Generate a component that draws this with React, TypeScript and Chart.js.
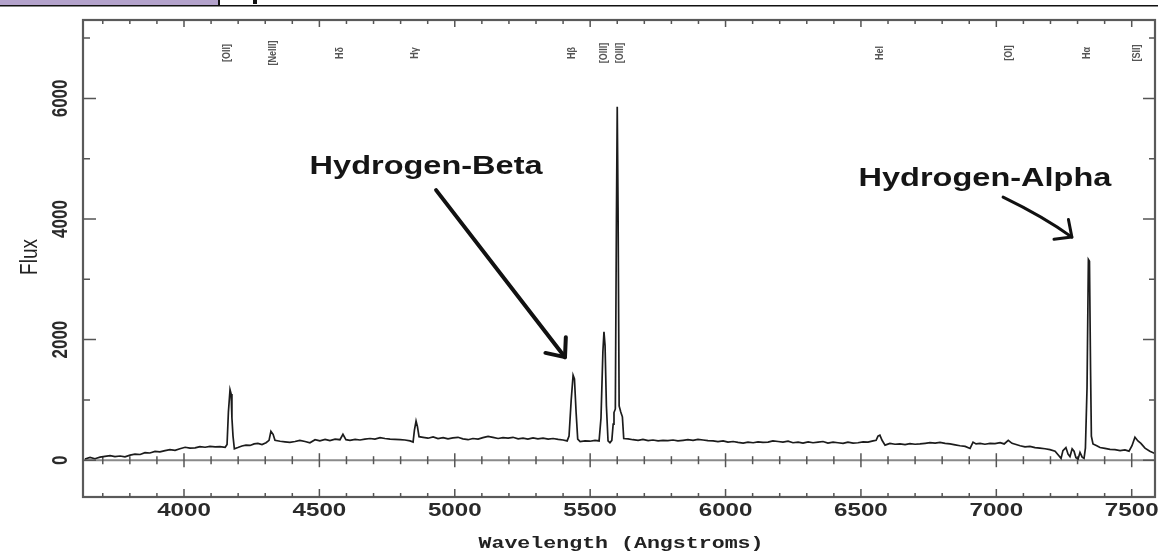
import React, { useEffect, useRef } from "react";
import { Chart, registerables } from "chart.js";

Chart.register(...registerables);

// Observed wavelength (Angstroms)
const wavelength = [
  3634, 3653, 3671, 3690, 3708, 3727, 3745, 3764, 3782, 3801,
  3819, 3838, 3856, 3874, 3893, 3911, 3930, 3948, 3967, 3985,
  4004, 4022, 4041, 4059, 4078, 4096, 4115, 4133, 4152, 4159,
  4164, 4170, 4174, 4177, 4181, 4186, 4199, 4214, 4229, 4244,
  4259, 4273, 4288, 4303, 4314, 4321, 4329, 4336, 4355, 4373,
  4391, 4410, 4428, 4447, 4465, 4484, 4502, 4521, 4539, 4558,
  4576, 4587, 4598, 4613, 4632, 4650, 4668, 4687, 4705, 4724,
  4742, 4761, 4779, 4798, 4816, 4835, 4846, 4851, 4857, 4862,
  4868, 4883, 4901, 4920, 4938, 4957, 4975, 4993, 5012, 5030,
  5049, 5067, 5086, 5104, 5123, 5141, 5160, 5178, 5197, 5215,
  5234, 5252, 5270, 5289, 5307, 5326, 5345, 5363, 5382, 5400,
  5415, 5422, 5430, 5437, 5442, 5448, 5454, 5463, 5481, 5499,
  5518, 5533, 5540, 5547, 5551, 5555, 5560, 5566, 5573, 5580,
  5585, 5588, 5593, 5597, 5600, 5603, 5607, 5613, 5619, 5624,
  5640, 5658, 5677, 5695, 5714, 5732, 5751, 5769, 5787, 5806,
  5824, 5843, 5861, 5880, 5898, 5917, 5935, 5954, 5972, 5991,
  6009, 6028, 6046, 6065, 6083, 6102, 6120, 6138, 6157, 6175,
  6194, 6212, 6231, 6249, 6268, 6286, 6305, 6323, 6342, 6360,
  6378, 6397, 6415, 6434, 6452, 6471, 6489, 6508, 6526, 6545,
  6556, 6563, 6570, 6578, 6589, 6607, 6626, 6644, 6663, 6681,
  6700, 6718, 6737, 6755, 6774, 6792, 6811, 6829, 6848, 6866,
  6885, 6903, 6914, 6925, 6940, 6958, 6977, 6995, 7014, 7029,
  7044, 7058, 7073, 7088, 7106, 7124, 7143, 7161, 7180, 7198,
  7217, 7228, 7239, 7246, 7257, 7265, 7272, 7280, 7287, 7294,
  7302, 7309, 7317, 7324, 7329, 7335, 7340, 7344, 7348, 7351,
  7357, 7371, 7383, 7401, 7420, 7438, 7457, 7475, 7490, 7501,
  7512, 7523, 7534, 7549, 7567, 7586,
];

// Flux
const flux = [
  20, 45, 25, 50, 65, 75, 60, 70, 55, 85,
  100, 95, 125, 120, 145, 140, 160, 175, 165, 190,
  215, 200, 205, 225, 215, 230, 220, 225, 215, 260,
  800, 1170, 1100, 700, 400, 190, 210, 235, 250, 245,
  270, 280, 260, 290, 330, 480, 430, 330, 315, 305,
  295, 310, 330, 310, 290, 340, 320, 345, 325, 350,
  340, 430, 340, 330, 345, 335, 350, 360, 350, 375,
  360, 350, 345, 340, 335, 320, 300, 500, 650, 560,
  390, 380, 365, 385, 360, 375, 355, 370, 380, 355,
  340, 360, 350, 375, 395, 380, 360, 375, 365, 380,
  355, 365, 350, 370, 355, 365, 350, 360, 345, 335,
  320, 400, 1000, 1410, 1350, 800, 350, 310, 320, 315,
  330, 320, 700, 1800, 2130, 1900, 900, 320, 290, 330,
  600, 790, 850, 4000, 5860, 4200, 900, 800, 720, 360,
  355, 340, 330, 345, 325, 335, 320, 330, 325, 335,
  320, 330, 340, 330, 345, 335, 325, 320, 310, 320,
  300, 310, 295, 285, 300, 290, 305, 295, 300, 320,
  310, 300, 315, 290, 300, 285, 305, 290, 300, 310,
  285, 300, 290, 280, 300, 285, 290, 305, 300, 320,
  330, 400, 415, 330, 250, 280, 265, 270, 260, 275,
  265, 270, 280, 290, 285, 295, 280, 270, 255, 240,
  230, 195, 300, 270, 280, 265, 280, 275, 290, 270,
  330, 280, 260, 240, 220, 230, 210, 200, 190, 175,
  150, 90, 30, 160, 210, 100, 60, 190, 150, 40,
  20, 130, 50, 30, 200, 1200, 3330, 3300, 1500, 400,
  270, 240, 210, 195, 180, 175, 160, 170, 150, 240,
  380, 320, 280, 200, 150, 110,
];

const xMin = 3627;
const xMax = 7586;
const yMin = -610;
const yMax = 7300;
const xTickStep = 100;
const xLabelStep = 500;
const yTickValues = [0, 1000, 2000, 3000, 4000, 5000, 6000, 7000];
const yLabelStep = 2000;

const lineLabels = ["[OII]", "[NeIII]", "Hδ", "Hγ", "Hβ", "[OIII]", "[OIII]", "HeI", "[OI]", "Hα", "[SII]"];
const lineLabelWavelengths = [4159, 4329, 4576, 4853, 5432, 5551, 5610, 6569, 7047, 7335, 7520];

const xTitle = "Wavelength (Angstroms)";
const yTitle = "Flux";
const annotationTexts = ["Hydrogen-Beta", "Hydrogen-Alpha"];
// [text centre λ, text baseline flux, arrow start λ, flux, arrow tip λ, flux]
const betaAnnotation = [4894, 4750, 4931, 4479, 5407, 1709];
const alphaAnnotation = [6958, 4550, 7025, 4363, 7279, 3700];

const SX = 1.27;

function stretchedText(
  ctx: CanvasRenderingContext2D,
  text: string,
  x: number,
  y: number,
  font: string,
  align: CanvasTextAlign,
  baseline: CanvasTextBaseline,
  sx: number,
  rot = 0,
  color = "#222"
) {
  ctx.save();
  ctx.translate(x, y);
  ctx.scale(sx, 1);
  if (rot) ctx.rotate(rot);
  ctx.font = font;
  ctx.textAlign = align;
  ctx.textBaseline = baseline;
  ctx.fillStyle = color;
  ctx.fillText(text, 0, 0);
  ctx.restore();
}

function drawArrow(
  ctx: CanvasRenderingContext2D,
  x0: number, y0: number, cx: number, cy: number, x1: number, y1: number,
  width: number, head: number, spread: number
) {
  ctx.save();
  ctx.strokeStyle = "#111";
  ctx.lineWidth = width;
  ctx.lineCap = "round";
  ctx.lineJoin = "round";
  ctx.beginPath();
  ctx.moveTo(x0, y0);
  ctx.quadraticCurveTo(cx, cy, x1, y1);
  ctx.stroke();
  const ang = Math.atan2(y1 - cy, x1 - cx) + Math.PI;
  ctx.beginPath();
  ctx.moveTo(x1 + head * Math.cos(ang - spread), y1 + head * Math.sin(ang - spread));
  ctx.lineTo(x1, y1);
  ctx.lineTo(x1 + head * Math.cos(ang + spread), y1 + head * Math.sin(ang + spread));
  ctx.stroke();
  ctx.restore();
}

const decorPlugin = {
  id: "spectrumDecor",
  beforeDatasetsDraw(chart: any) {
    const ctx = chart.ctx as CanvasRenderingContext2D;
    const { left, right } = chart.chartArea;
    const xs = chart.scales.x;
    const ys = chart.scales.y;
    const y0 = ys.getPixelForValue(0);
    ctx.save();
    ctx.strokeStyle = "#8a8a8a";
    ctx.lineWidth = 2;
    ctx.beginPath();
    ctx.moveTo(left, y0);
    ctx.lineTo(right, y0);
    ctx.stroke();
    ctx.strokeStyle = "#555";
    ctx.lineWidth = 1.5;
    for (const t of xs.ticks) {
      const px = xs.getPixelForValue(t.value);
      const major = Math.round(t.value) % xLabelStep === 0;
      const h = major ? 7 : 4;
      ctx.beginPath();
      ctx.moveTo(px, y0 - h);
      ctx.lineTo(px, y0 + h);
      ctx.stroke();
    }
    ctx.restore();
  },
  afterDraw(chart: any) {
    const ctx = chart.ctx as CanvasRenderingContext2D;
    const { left, right, top, bottom } = chart.chartArea;
    const xs = chart.scales.x;
    const ys = chart.scales.y;

    // header fragment
    ctx.save();
    ctx.fillStyle = "#b3a2cb";
    ctx.fillRect(0, 0, 218, 5);
    ctx.fillStyle = "#111";
    ctx.fillRect(0, 5, 1158, 1.5);
    ctx.fillRect(218, 0, 2, 6);
    ctx.fillRect(253, 0, 4, 4);
    ctx.restore();

    // frame
    ctx.save();
    ctx.strokeStyle = "#5a5a5a";
    ctx.lineWidth = 2.2;
    ctx.strokeRect(left, top, right - left, bottom - top);
    ctx.lineWidth = 1.5;
    ctx.strokeStyle = "#555";
    for (const t of xs.ticks) {
      const px = xs.getPixelForValue(t.value);
      const major = Math.round(t.value) % xLabelStep === 0;
      ctx.beginPath();
      ctx.moveTo(px, bottom);
      ctx.lineTo(px, bottom - (major ? 8 : 4));
      ctx.moveTo(px, top);
      ctx.lineTo(px, top + (major ? 7 : 4));
      ctx.stroke();
      if (major) {
        stretchedText(ctx, String(Math.round(t.value)), px, bottom + 14, "bold 19px 'Liberation Sans', Arial, sans-serif", "center", "middle", SX, 0, "#2a2a2a");
      }
    }
    for (const t of ys.ticks) {
      const py = ys.getPixelForValue(t.value);
      const major = Math.round(t.value) % yLabelStep === 0;
      ctx.beginPath();
      ctx.moveTo(left, py);
      ctx.lineTo(left + (major ? 13 : 7), py);
      ctx.moveTo(right, py);
      ctx.lineTo(right - (major ? 12 : 6), py);
      ctx.stroke();
      if (major) {
        stretchedText(ctx, String(Math.round(t.value)), 61, py, "bold 17px 'Liberation Sans', Arial, sans-serif", "center", "middle", SX, -Math.PI / 2, "#2a2a2a");
      }
    }
    ctx.restore();

    // axis titles
    stretchedText(ctx, xTitle, 621, 544, "bold 17px 'Liberation Mono', 'Courier New', monospace", "center", "middle", SX, 0, "#222");
    stretchedText(ctx, yTitle, 30, 257, "19px 'Liberation Sans', Arial, sans-serif", "center", "middle", SX, -Math.PI / 2, "#222");

    // emission line labels
    lineLabels.forEach((lab, i) => {
      const px = xs.getPixelForValue(lineLabelWavelengths[i]);
      stretchedText(ctx, lab, px, 53, "bold 9px 'Liberation Sans', Arial, sans-serif", "center", "middle", 1.2, -Math.PI / 2, "#555");
    });

    // annotations
    const anns = [betaAnnotation, alphaAnnotation];
    anns.forEach((a, i) => {
      const tx = xs.getPixelForValue(a[0]);
      const ty = ys.getPixelForValue(a[1]);
      stretchedText(ctx, annotationTexts[i], tx, ty, "bold 26px 'Liberation Sans', Arial, sans-serif", "center", "alphabetic", 1.25, 0, "#151515");
      const x0 = xs.getPixelForValue(a[2]);
      const y0 = ys.getPixelForValue(a[3]);
      const x1 = xs.getPixelForValue(a[4]);
      const y1 = ys.getPixelForValue(a[5]);
      if (i === 0) {
        drawArrow(ctx, x0, y0, (x0 + x1) / 2, (y0 + y1) / 2, x1, y1, 4, 20, 0.7);
      } else {
        drawArrow(ctx, x0, y0, x0 + (x1 - x0) * 0.6, y0 + (y1 - y0) * 0.5, x1, y1, 3, 18, 0.75);
      }
    });
  },
};

export default function App() {
  const ref = useRef<HTMLCanvasElement | null>(null);
  useEffect(() => {
    if (!ref.current) return;
    const data = wavelength.map((w, i) => ({ x: w, y: flux[i] }));
    const chart = new Chart(ref.current, {
      type: "line",
      data: {
        datasets: [
          {
            data,
            borderColor: "#1c1c1c",
            borderWidth: 1.7,
            pointRadius: 0,
            tension: 0,
            fill: false,
          },
        ],
      },
      options: {
        animation: false,
        responsive: false,
        devicePixelRatio: 1,
        layout: { padding: { top: 20, right: 3, left: 0, bottom: 0 } },
        plugins: { legend: { display: false }, tooltip: { enabled: false } },
        scales: {
          x: {
            type: "linear",
            min: xMin,
            max: xMax,
            ticks: { display: false, stepSize: xTickStep, includeBounds: false },
            grid: { display: false },
            border: { display: false },
            afterFit: (s: any) => {
              s.height = 58;
            },
          },
          y: {
            type: "linear",
            min: yMin,
            max: yMax,
            ticks: { display: false },
            grid: { display: false },
            border: { display: false },
            afterBuildTicks: (s: any) => {
              s.ticks = yTickValues.map((v) => ({ value: v }));
            },
            afterFit: (s: any) => {
              s.width = 83;
            },
          },
        },
      },
      plugins: [decorPlugin],
    });
    return () => chart.destroy();
  }, []);
  return (
    <div style={{ position: "absolute", left: 0, top: 0, width: 1158, height: 555, background: "#fff" }}>
      <canvas ref={ref} width={1158} height={555} style={{ display: "block" }} />
    </div>
  );
}
